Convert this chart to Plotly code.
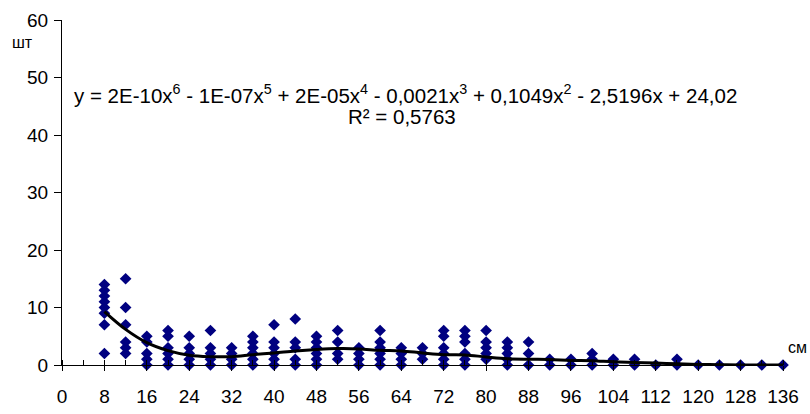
import plotly.graph_objects as go

# Body length classes (cm) and the counts (pcs) observed in each class
lengths = [8, 12, 16, 20, 24, 28, 32, 36, 40, 44, 48, 52, 56, 60, 64, 68, 72,
           76, 80, 84, 88, 92, 96, 100, 104, 108, 112, 116, 120, 124, 128, 132, 136]
counts = [
    [14, 13, 12, 11, 10, 9, 7, 2],
    [15, 10, 7, 4, 3, 2],
    [5, 4, 2, 1, 0],
    [6, 5, 3, 2, 1, 0],
    [5, 3, 2, 1, 0],
    [6, 3, 2, 1, 0],
    [3, 2, 1, 0],
    [5, 4, 3, 2, 1, 0],
    [7, 4, 3, 2, 1, 0],
    [8, 4, 3, 1, 0],
    [5, 4, 3, 2, 1, 0],
    [6, 4, 2, 1],
    [3, 2, 1, 0],
    [6, 4, 3, 2, 1, 0],
    [3, 2, 1, 0],
    [3, 2, 1],
    [6, 5, 3, 2, 1, 0],
    [6, 5, 4, 2, 1, 0],
    [6, 4, 3, 2, 1],
    [4, 3, 2, 1, 0],
    [4, 2, 0],
    [1, 0],
    [1, 0],
    [2, 1, 0],
    [1, 0],
    [1, 0],
    [0],
    [1, 0],
    [0],
    [0],
    [0],
    [0],
    [0],
]

# Polynomial trend (6th order) sampled at each length class
trend_y = [9.3, 6.2, 3.9, 2.5, 1.7, 1.45, 1.45, 1.8, 2.1, 2.45, 2.7, 2.85, 2.8,
           2.55, 2.45, 2.1, 1.8, 1.75, 1.4, 1.1, 1.0, 0.95, 0.8, 0.75, 0.55,
           0.45, 0.35, 0.2, 0.1, 0.05, 0.0, 0.0, 0.0]

x_ticks = list(range(0, 137, 8))
y_ticks = [0, 10, 20, 30, 40, 50, 60]

equation = ("y = 2E-10x<sup>6</sup> - 1E-07x<sup>5</sup> + 2E-05x<sup>4</sup> - "
            "0,0021x<sup>3</sup> + 0,1049x<sup>2</sup> - 2,5196x + 24,02")
r_squared = "R² = 0,5763"

pts_x = [x for x, col in zip(lengths, counts) for _ in col]
pts_y = [v for col in counts for v in col]

FONT = "Liberation Sans, Arial, sans-serif"

fig = go.Figure()
fig.add_trace(go.Scatter(
    x=pts_x, y=pts_y, mode="markers",
    marker=dict(symbol="diamond", size=9, color="#000080", line=dict(width=0)),
    cliponaxis=False, showlegend=False,
))
fig.add_trace(go.Scatter(
    x=lengths, y=trend_y, mode="lines",
    line=dict(color="black", width=3, shape="spline"),
    cliponaxis=False, showlegend=False,
))

W, H = 810, 414
ML, MR, MT, MB = 62, 27, 20, 48.5
pw, ph = W - ML - MR, H - MT - MB


def px(xp, yp):
    return (xp - ML) / pw, 1 - (yp - MT) / ph


ax, ay = px(405, 94)
fig.add_annotation(x=ax, y=ay, xref="paper", yref="paper", text=equation,
                   showarrow=False, xanchor="center", yanchor="middle",
                   font=dict(family=FONT, size=20.5, color="black"))
ax, ay = px(402, 117)
fig.add_annotation(x=ax, y=ay, xref="paper", yref="paper", text=r_squared,
                   showarrow=False, xanchor="center", yanchor="middle",
                   font=dict(family=FONT, size=20.5, color="black"))
ax, ay = px(22, 43)
fig.add_annotation(x=ax, y=ay, xref="paper", yref="paper", text="шт",
                   showarrow=False, xanchor="center", yanchor="middle",
                   font=dict(family=FONT, size=16, color="black"))
ax, ay = px(797, 348)
fig.add_annotation(x=ax, y=ay, xref="paper", yref="paper", text="см",
                   showarrow=False, xanchor="center", yanchor="middle",
                   font=dict(family=FONT, size=16, color="black"))

fig.update_layout(
    width=W, height=H,
    margin=dict(l=ML, r=MR, t=MT, b=MB, pad=0, autoexpand=False),
    paper_bgcolor="white", plot_bgcolor="white",
    font=dict(family=FONT, size=19, color="black"),
    xaxis=dict(
        range=[0, 136], tickvals=x_ticks, ticktext=[str(v) for v in x_ticks],
        showgrid=False, zeroline=False, showline=True, linecolor="black",
        linewidth=1, ticks="outside", ticklen=5, tickcolor="black",
        ticklabelstandoff=9, automargin=False,
        minor=dict(dtick=4, tick0=0, ticks="inside", ticklen=5,
                   tickcolor="black", showgrid=False),
        tickfont=dict(size=19),
    ),
    yaxis=dict(
        range=[0, 60], tickvals=y_ticks, ticktext=[str(v) for v in y_ticks],
        showgrid=False, zeroline=False, showline=True, linecolor="black",
        linewidth=1, ticks="outside", ticklen=7, tickcolor="black",
        ticklabelstandoff=2, automargin=False,
        tickfont=dict(size=19),
    ),
)

fig.write_html("out.html")
